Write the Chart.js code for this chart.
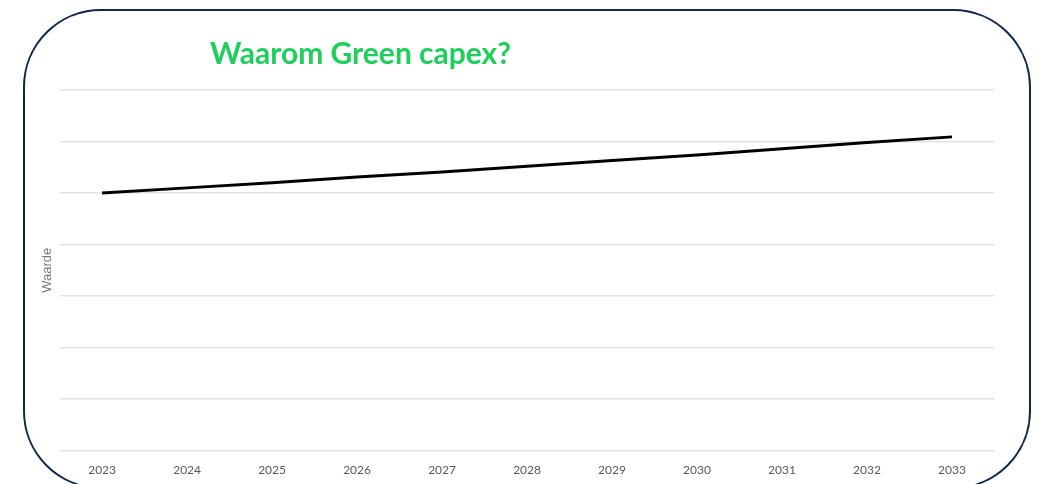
<!DOCTYPE html>
<html lang="nl">
<head>
    <meta charset="UTF-8">
    <title>Waarom Green capex?</title>
    <script src="https://cdn.jsdelivr.net/npm/chart.js"></script>
    <style>
        html, body {
            margin: 0;
            padding: 0;
            width: 1040px;
            height: 484px;
            overflow: hidden;
            background: #fff;
        }
        .frame {
            position: absolute;
            left: 23px;
            top: 9px;
            width: 1004px;
            height: 476px;
            border: 2px solid #10284a;
            border-radius: 78px;
        }
        .title {
            position: absolute;
            left: 210px;
            top: 34px;
            font-family: Lato, 'Open Sans', sans-serif;
            font-weight: 700;
            font-size: 30px;
            color: #1fcf5e;
            white-space: nowrap;
        }
        #chart {
            position: absolute;
            left: 0;
            top: 0;
        }
    </style>
</head>
<body>
<div class="frame"></div>
<canvas id="chart" width="1040" height="497"></canvas>
<div class="title">Waarom Green capex?</div>
<script>
const years = ['2023', '2024', '2025', '2026', '2027', '2028', '2029', '2030', '2031', '2032', '2033'];
const waarde = [5.00, 5.10, 5.20, 5.31, 5.41, 5.52, 5.63, 5.74, 5.86, 5.98, 6.09];
const yMin = 0;
const yMax = 7;

new Chart(document.getElementById('chart'), {
    type: 'line',
    data: {
        labels: years,
        datasets: [{
            label: 'Waarde',
            data: waarde,
            borderColor: '#000',
            borderWidth: 3,
            pointRadius: 0,
            tension: 0,
            fill: false
        }]
    },
    options: {
        responsive: false,
        animation: false,
        layout: {padding: {left: 36, right: 45.5, top: 90, bottom: 8}},
        plugins: {
            legend: {display: false},
            tooltip: {enabled: false}
        },
        scales: {
            x: {
                offset: true,
                grid: {display: false, drawTicks: false},
                border: {display: false},
                ticks: {
                    padding: 12,
                    color: '#595959',
                    font: {family: 'Lato', size: 12},
                    maxRotation: 0
                }
            },
            y: {
                min: yMin,
                max: yMax,
                grid: {color: '#e3e3e3', lineWidth: 1.5, drawTicks: false},
                border: {display: false},
                ticks: {display: false, stepSize: 1},
                title: {
                    display: true,
                    text: 'Waarde',
                    color: '#777',
                    font: {family: 'Liberation Sans', size: 13},
                    padding: {top: 4, bottom: 4}
                }
            }
        }
    }
});
</script>
</body>
</html>
